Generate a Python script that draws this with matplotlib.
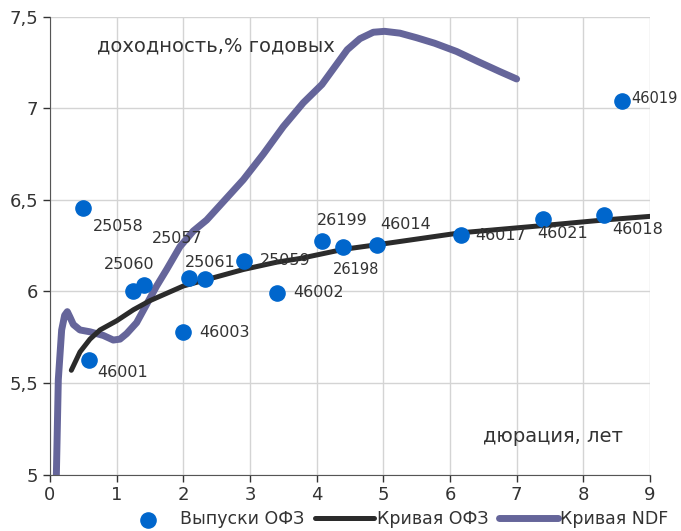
import matplotlib
matplotlib.use("Agg")
import matplotlib.pyplot as plt
from matplotlib.ticker import FuncFormatter

plt.rcParams['font.family'] = ['DejaVu Sans']

# выпуски ОФЗ: дюрация, доходность, код
bond_dur = [0.5, 0.58, 1.25, 1.415, 2.085, 2.325, 2.0, 2.915, 3.41, 4.075, 4.4, 4.9, 6.16, 7.4, 8.31, 8.575]
bond_ytm = [6.455, 5.626, 6.005, 6.034, 6.076, 6.067, 5.777, 6.167, 5.994, 6.276, 6.245, 6.254, 6.31, 6.395, 6.415, 7.04]
bond_names = ['25058', '46001', '25060', '25057', '25061', '', '46003', '25059', '46002',
              '26199', '26198', '46014', '46017', '46021', '46018', '46019']
# label offsets, pixels
label_off = [(10, -18), (9, -12), (-29, 26), (8, 47), (-4, 15), (0, 0), (16, 0), (16, 0), (16, 0),
             (-5, 20), (-10, -23), (4, 20), (15, -1), (-6, -14), (8, -14), (10, 2)]

# кривая ОФЗ
ofz_x = [0.32, 0.45, 0.6, 0.75, 1.0, 1.25, 1.5, 2.0, 2.5, 2.9, 3.4, 3.75, 4.4, 5.0, 6.15, 7.4, 8.3, 9.0]
ofz_y = [5.57, 5.67, 5.74, 5.79, 5.84, 5.9, 5.95, 6.03, 6.08, 6.12, 6.16, 6.18, 6.23, 6.26, 6.32, 6.36, 6.39, 6.41]

# кривая NDF
ndf_x = [0.09, 0.125, 0.175, 0.22, 0.26, 0.30, 0.35, 0.45, 0.6, 0.8, 0.95, 1.05, 1.15, 1.3, 1.45, 1.6,
         1.75, 1.95, 2.15, 2.35, 2.6, 2.9, 3.2, 3.5, 3.8, 4.08, 4.3, 4.46, 4.65, 4.85, 5.02, 5.25,
         5.5, 5.77, 6.1, 6.42, 6.75, 7.0]
ndf_y = [4.9, 5.52, 5.79, 5.87, 5.89, 5.86, 5.82, 5.79, 5.78, 5.76, 5.735, 5.74, 5.77, 5.83, 5.93, 6.03,
         6.12, 6.245, 6.33, 6.39, 6.49, 6.61, 6.75, 6.9, 7.03, 7.13, 7.24, 7.32, 7.38, 7.415, 7.42, 7.41,
         7.385, 7.355, 7.31, 7.255, 7.2, 7.16]

fig = plt.figure(figsize=(6.81, 5.31), dpi=100)
ax = fig.add_axes([0.0734, 0.106, 0.881, 0.8626])

ax.scatter(bond_dur, bond_ytm, s=120, color='#0066cc', zorder=4, label='Выпуски ОФЗ')
ax.plot(ofz_x, ofz_y, color='#2b2b2b', lw=3.6, solid_capstyle='round', zorder=3, label='Кривая ОФЗ')
ax.plot(ndf_x, ndf_y, color='#65659a', lw=5, solid_capstyle='round', solid_joinstyle='round',
        zorder=2, label='Кривая NDF')

for x, y, name, off in zip(bond_dur, bond_ytm, bond_names, label_off):
    if name:
        fs = 10.5 if name in ('26198', '46019') else 11.5
        ax.annotate(name, (x, y), xytext=off, textcoords='offset pixels',
                    ha='left', va='center', fontsize=fs, color='#333333', zorder=5)

ax.set_xlim(0, 9)
ax.set_ylim(5, 7.5)
ax.set_xticks(range(0, 10))
ax.set_yticks([5, 5.5, 6, 6.5, 7, 7.5])
ax.yaxis.set_major_formatter(FuncFormatter(lambda v, p: ('%g' % v).replace('.', ',')))
ax.grid(True, color='#d4d4d4', lw=1)
ax.set_axisbelow(True)
for s in ['top', 'right']:
    ax.spines[s].set_visible(False)
for s in ['left', 'bottom']:
    ax.spines[s].set_color('#555555')
ax.tick_params(axis='both', labelsize=13, colors='#333333', length=5, width=1)
ax.tick_params(axis='x', pad=3)

ax.text(0.078, 0.935, 'доходность,% годовых', transform=ax.transAxes, fontsize=14, color='#333333',
        ha='left', va='center')
ax.text(0.722, 0.084, 'дюрация, лет', transform=ax.transAxes, fontsize=14, color='#333333',
        ha='left', va='center')

fig.legend(loc='center', bbox_to_anchor=(0.578, 0.022), ncol=3, frameon=False, fontsize=12.5,
           handlelength=3.4, handletextpad=0.15, columnspacing=0.6, labelcolor='#333333')

fig.savefig('out.png', dpi=100)
